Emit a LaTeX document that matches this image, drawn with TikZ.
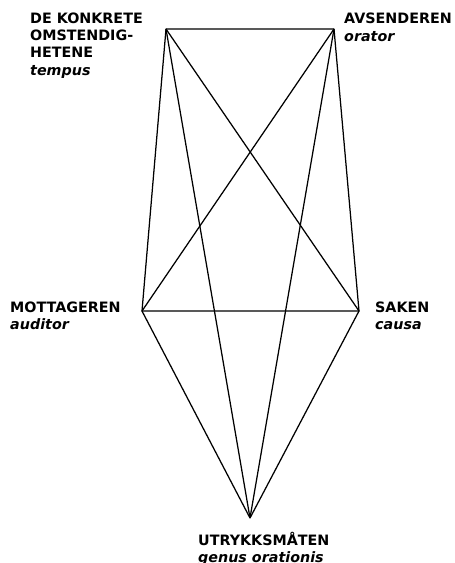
\documentclass[tikz,border=0pt]{standalone}
\usepackage{fontspec}
\setmainfont{DejaVu Sans}
\begin{document}
\begin{tikzpicture}[x=1pt,y=-1pt,
  edge/.style={line width=1.25pt, line join=round},
  lab/.style={font=\fontsize{14.3}{17}\selectfont\bfseries, inner sep=0pt, anchor=base west},
  latin/.style={font=\fontsize{14.3}{17}\selectfont\bfseries\itshape, inner sep=0pt, anchor=base west}]
\useasboundingbox (0,0) rectangle (455,563);
\coordinate (A) at (166,29);
\coordinate (B) at (334,29);
\coordinate (C) at (142,311);
\coordinate (D) at (359,311);
\coordinate (E) at (250,518);
\draw[edge] (A) -- (B) -- (D) -- (C) -- cycle;
\draw[edge] (A) -- (D);
\draw[edge] (B) -- (C);
\draw[edge] (A) -- (E);
\draw[edge] (B) -- (E);
\draw[edge] (C) -- (E);
\draw[edge] (D) -- (E);
\node[lab] (tl1) at (30,23) {DE KONKRETE};
\node[lab] (tl2) at (30,40.3) {OMSTENDIG-};
\node[lab] (tl3) at (30,57.6) {HETENE};
\node[latin] (tl4) at (30,75) {tempus};
\node[lab] (tr1) at (344,23) {AVSENDEREN};
\node[latin] (tr2) at (344,41.5) {orator};
\node[lab] (l1) at (10,312) {MOTTAGEREN};
\node[latin] (l2) at (10,329) {auditor};
\node[lab] (r1) at (375,312) {SAKEN};
\node[latin] (r2) at (375,329) {causa};
\node[lab] (b1) at (198,545) {UTRYKKSMÅTEN};
\node[latin] (b2) at (198,562) {genus orationis};
\end{tikzpicture}
\end{document}
